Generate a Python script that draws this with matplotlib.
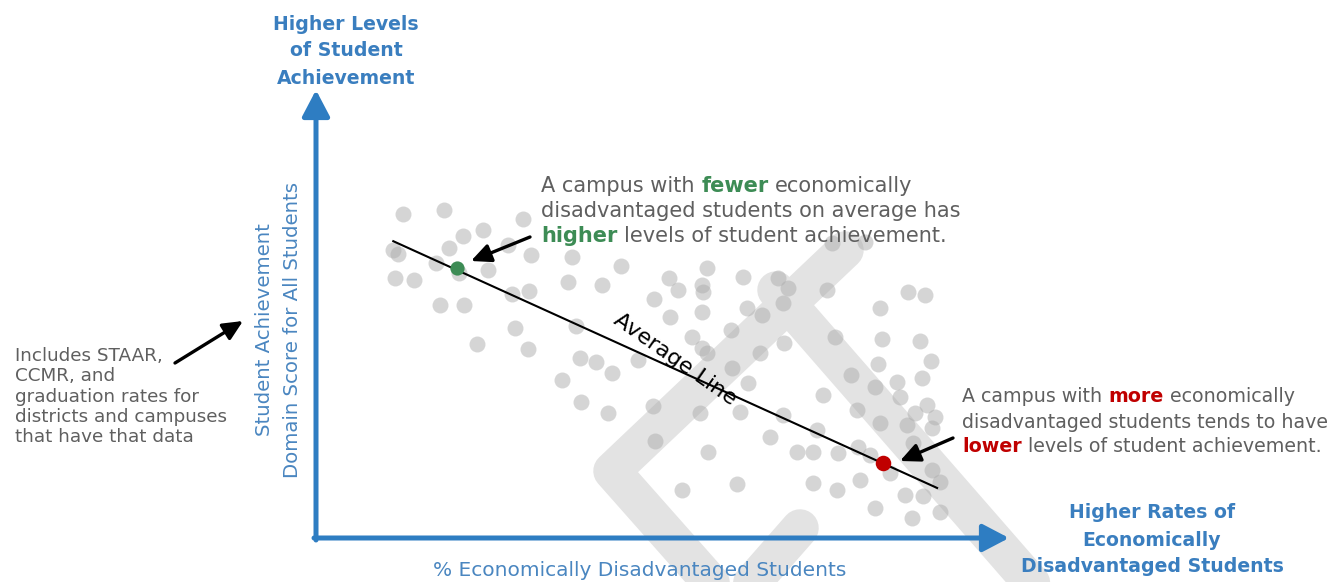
import math

import matplotlib
matplotlib.use("Agg")
import matplotlib.pyplot as plt

# ---------------------------------------------------------------------------
# Data (x = % economically disadvantaged, y = achievement domain score)
# ---------------------------------------------------------------------------
eco_pct = [
    12.7, 18.7, 30.3, 24.4, 21.5, 11.3, 12.0, 19.4, 28.1, 31.4,
    17.5, 20.9, 25.1, 11.5, 14.3, 37.4, 44.6, 36.8, 41.8, 28.7,
    31.1, 18.1, 21.6, 29.1, 38.0, 23.5, 31.0, 38.6, 40.9, 43.3,
    47.1, 36.0, 38.7, 42.7, 49.3, 49.6, 75.4, 80.3, 57.2, 51.6,
    62.4, 67.5, 69.0, 52.9, 56.4, 56.6, 74.7, 86.5, 89.0, 68.3,
    82.5, 56.4, 63.0, 65.2, 51.8, 60.7, 55.0, 75.9, 82.7, 88.3,
    68.4, 56.4, 57.2, 64.9, 82.2, 89.9, 78.2, 60.8, 88.6, 84.9,
    63.2, 81.7, 74.1, 85.4, 89.3, 90.5, 79.1, 56.1, 62.0, 68.3,
    82.5, 86.4, 90.1, 73.2, 66.4, 87.3, 57.3, 70.3, 72.7, 76.3,
    79.2, 81.0, 83.9, 90.1, 91.2, 61.5, 53.5, 72.7, 76.2, 79.5,
    86.1, 88.7, 81.7, 87.1, 91.2, 49.4, 87.6,
]
achievement = [
    73.1, 74.0, 72.0, 69.5, 68.2, 65.0, 64.1, 65.5, 66.1, 63.9,
    62.1, 59.8, 60.5, 58.7, 58.2, 63.4, 61.4, 57.8, 57.1, 55.1,
    55.8, 52.6, 52.6, 47.4, 47.9, 43.8, 42.7, 40.6, 39.7, 37.2,
    40.2, 35.7, 30.7, 28.2, 29.8, 21.9, 66.6, 66.8, 60.9, 58.7,
    58.9, 58.7, 56.4, 56.0, 57.1, 55.5, 56.0, 55.5, 54.9, 53.0,
    51.9, 51.0, 51.9, 50.3, 49.9, 47.0, 45.4, 45.4, 44.9, 44.5,
    44.0, 42.9, 41.8, 41.8, 39.3, 40.0, 36.8, 38.4, 36.1, 35.2,
    35.0, 34.1, 32.3, 31.8, 30.0, 27.3, 28.9, 28.2, 28.4, 27.8,
    26.0, 25.5, 24.8, 24.4, 22.8, 21.4, 19.4, 19.4, 19.4, 19.2,
    20.5, 18.7, 14.7, 15.3, 12.6, 12.2, 10.8, 12.4, 10.8, 13.1,
    9.7, 9.5, 6.8, 4.5, 5.9, 53.9, 28.2,
]

avg_line_x = [11.3, 90.8]
avg_line_y = [67.0, 11.3]

low_campus = (20.6, 60.9)    # fewer disadvantaged students
high_campus = (82.9, 16.9)   # more disadvantaged students

# ---------------------------------------------------------------------------
# Colours
# ---------------------------------------------------------------------------
AXIS_BLUE = "#2e7dc2"
TITLE_BLUE = "#3a7ebf"
LABEL_BLUE = "#4a86c0"
TEXT_GRAY = "#5f5f5f"
GREEN = "#3d8c55"
RED = "#c00000"

W, H = 1328, 582
fig = plt.figure(figsize=(W / 100, H / 100), dpi=100)

# background overlay in pixel units (watermark)
ax_bg = fig.add_axes([0, 0, 1, 1], zorder=0)
ax_bg.set_xlim(0, W)
ax_bg.set_ylim(H, 0)
ax_bg.axis("off")

band_kw = dict(color="#e3e3e3", lw=27, solid_capstyle="round",
               solid_joinstyle="round", zorder=0)
ax_bg.plot([845, 612, 735], [250, 471, 610], **band_kw)
ax_bg.plot([776, 1055], [290, 610], **band_kw)
ax_bg.plot([800, 715], [528, 625], **band_kw)

# data axes
ax = fig.add_axes([316 / W, (H - 538) / H, 684 / W, 443 / H], zorder=1)
ax.set_xlim(0, 100)
ax.set_ylim(0, 100)
ax.axis("off")
ax.patch.set_alpha(0)

ax.scatter(eco_pct, achievement, s=132, color="#adadad", alpha=0.5,
           linewidths=0, zorder=2)
ax.plot(avg_line_x, avg_line_y, color="black", lw=1.5, zorder=3)
ax.scatter(*low_campus, s=105, color=GREEN, linewidths=0, zorder=4)
ax.scatter(*high_campus, s=125, color=RED, linewidths=0, zorder=4)

slope = (avg_line_y[1] - avg_line_y[0]) / (avg_line_x[1] - avg_line_x[0])
lx = 52.0
ly = avg_line_y[0] + slope * (lx - avg_line_x[0])
ax.annotate("Average Line", xy=(lx, ly), xytext=(0, 2),
            textcoords="offset points", ha="center", va="baseline",
            rotation=math.degrees(math.atan(slope)),
            transform_rotates_text=True, rotation_mode="anchor",
            fontsize=16, fontweight="medium", color="black", zorder=5)

# top overlay for arrows and text
ax_top = fig.add_axes([0, 0, 1, 1], zorder=2)
ax_top.set_xlim(0, W)
ax_top.set_ylim(H, 0)
ax_top.axis("off")
ax_top.patch.set_alpha(0)

blue_arrow = dict(arrowstyle="-|>,head_length=0.8,head_width=0.42",
                  mutation_scale=20, color=AXIS_BLUE, lw=3.6,
                  shrinkA=0, shrinkB=0)
ax_top.annotate("", xy=(316, 90), xytext=(316, 540), arrowprops=blue_arrow)
ax_top.annotate("", xy=(1009, 538), xytext=(314, 538), arrowprops=blue_arrow)

black_arrow = dict(arrowstyle="-|>,head_length=0.6,head_width=0.28",
                   mutation_scale=20, color="black", lw=2.4,
                   shrinkA=0, shrinkB=0)
ax_top.annotate("", xy=(471, 261), xytext=(530, 237), arrowprops=black_arrow)
ax_top.annotate("", xy=(243, 321), xytext=(175, 363), arrowprops=black_arrow)
ax_top.annotate("", xy=(900, 461), xytext=(953, 438), arrowprops=black_arrow)


def rich_line(x, y, parts, size):
    """Draw one line of text made of (text, colour, weight) pieces."""
    txt, col, wt = parts[0]
    t = ax_top.text(x, y, txt, color=col, fontweight=wt, fontsize=size,
                    ha="left", va="center")
    for txt, col, wt in parts[1:]:
        t = ax_top.annotate(txt, xy=(1, 0.5), xycoords=t,
                            xytext=(size * 0.32, 0), textcoords="offset points",
                            color=col, fontweight=wt, fontsize=size,
                            ha="left", va="center")


N = "normal"
B = "bold"
rich_line(541, 186, [("A campus with", TEXT_GRAY, N), ("fewer", GREEN, B),
                     ("economically", TEXT_GRAY, N)], 15)
rich_line(541, 211, [("disadvantaged students on average has", TEXT_GRAY, N)], 15)
rich_line(541, 236, [("higher", GREEN, B),
                     ("levels of student achievement.", TEXT_GRAY, N)], 15)

rich_line(962, 397, [("A campus with", TEXT_GRAY, N), ("more", RED, B),
                     ("economically", TEXT_GRAY, N)], 13.7)
rich_line(962, 422, [("disadvantaged students tends to have", TEXT_GRAY, N)], 13.7)
rich_line(962, 447, [("lower", RED, B),
                     ("levels of student achievement.", TEXT_GRAY, N)], 13.7)

left_note = ["Includes STAAR,", "CCMR, and", "graduation rates for",
             "districts and campuses", "that have that data"]
for i, line in enumerate(left_note):
    ax_top.text(15, 356 + i * 20.3, line, fontsize=13.2, color=TEXT_GRAY,
                ha="left", va="center")

for i, line in enumerate(["Higher Levels", "of Student", "Achievement"]):
    ax_top.text(346, 24 + i * 27, line, fontsize=13.6, fontweight="bold",
                color=TITLE_BLUE, ha="center", va="center")

for i, line in enumerate(["Higher Rates of", "Economically",
                          "Disadvantaged Students"]):
    ax_top.text(1152, 513 + i * 27, line, fontsize=13.6, fontweight="bold",
                color=TITLE_BLUE, ha="center", va="center")

ax_top.text(265, 330, "Student Achievement", rotation=90, fontsize=14.2,
            color=LABEL_BLUE, ha="center", va="center")
ax_top.text(292, 330, "Domain Score for All Students", rotation=90,
            fontsize=14.2, color=LABEL_BLUE, ha="center", va="center")
ax_top.text(640, 571, "% Economically Disadvantaged Students", fontsize=14.5,
            color=LABEL_BLUE, ha="center", va="center")

fig.savefig("out.png", dpi=100)
